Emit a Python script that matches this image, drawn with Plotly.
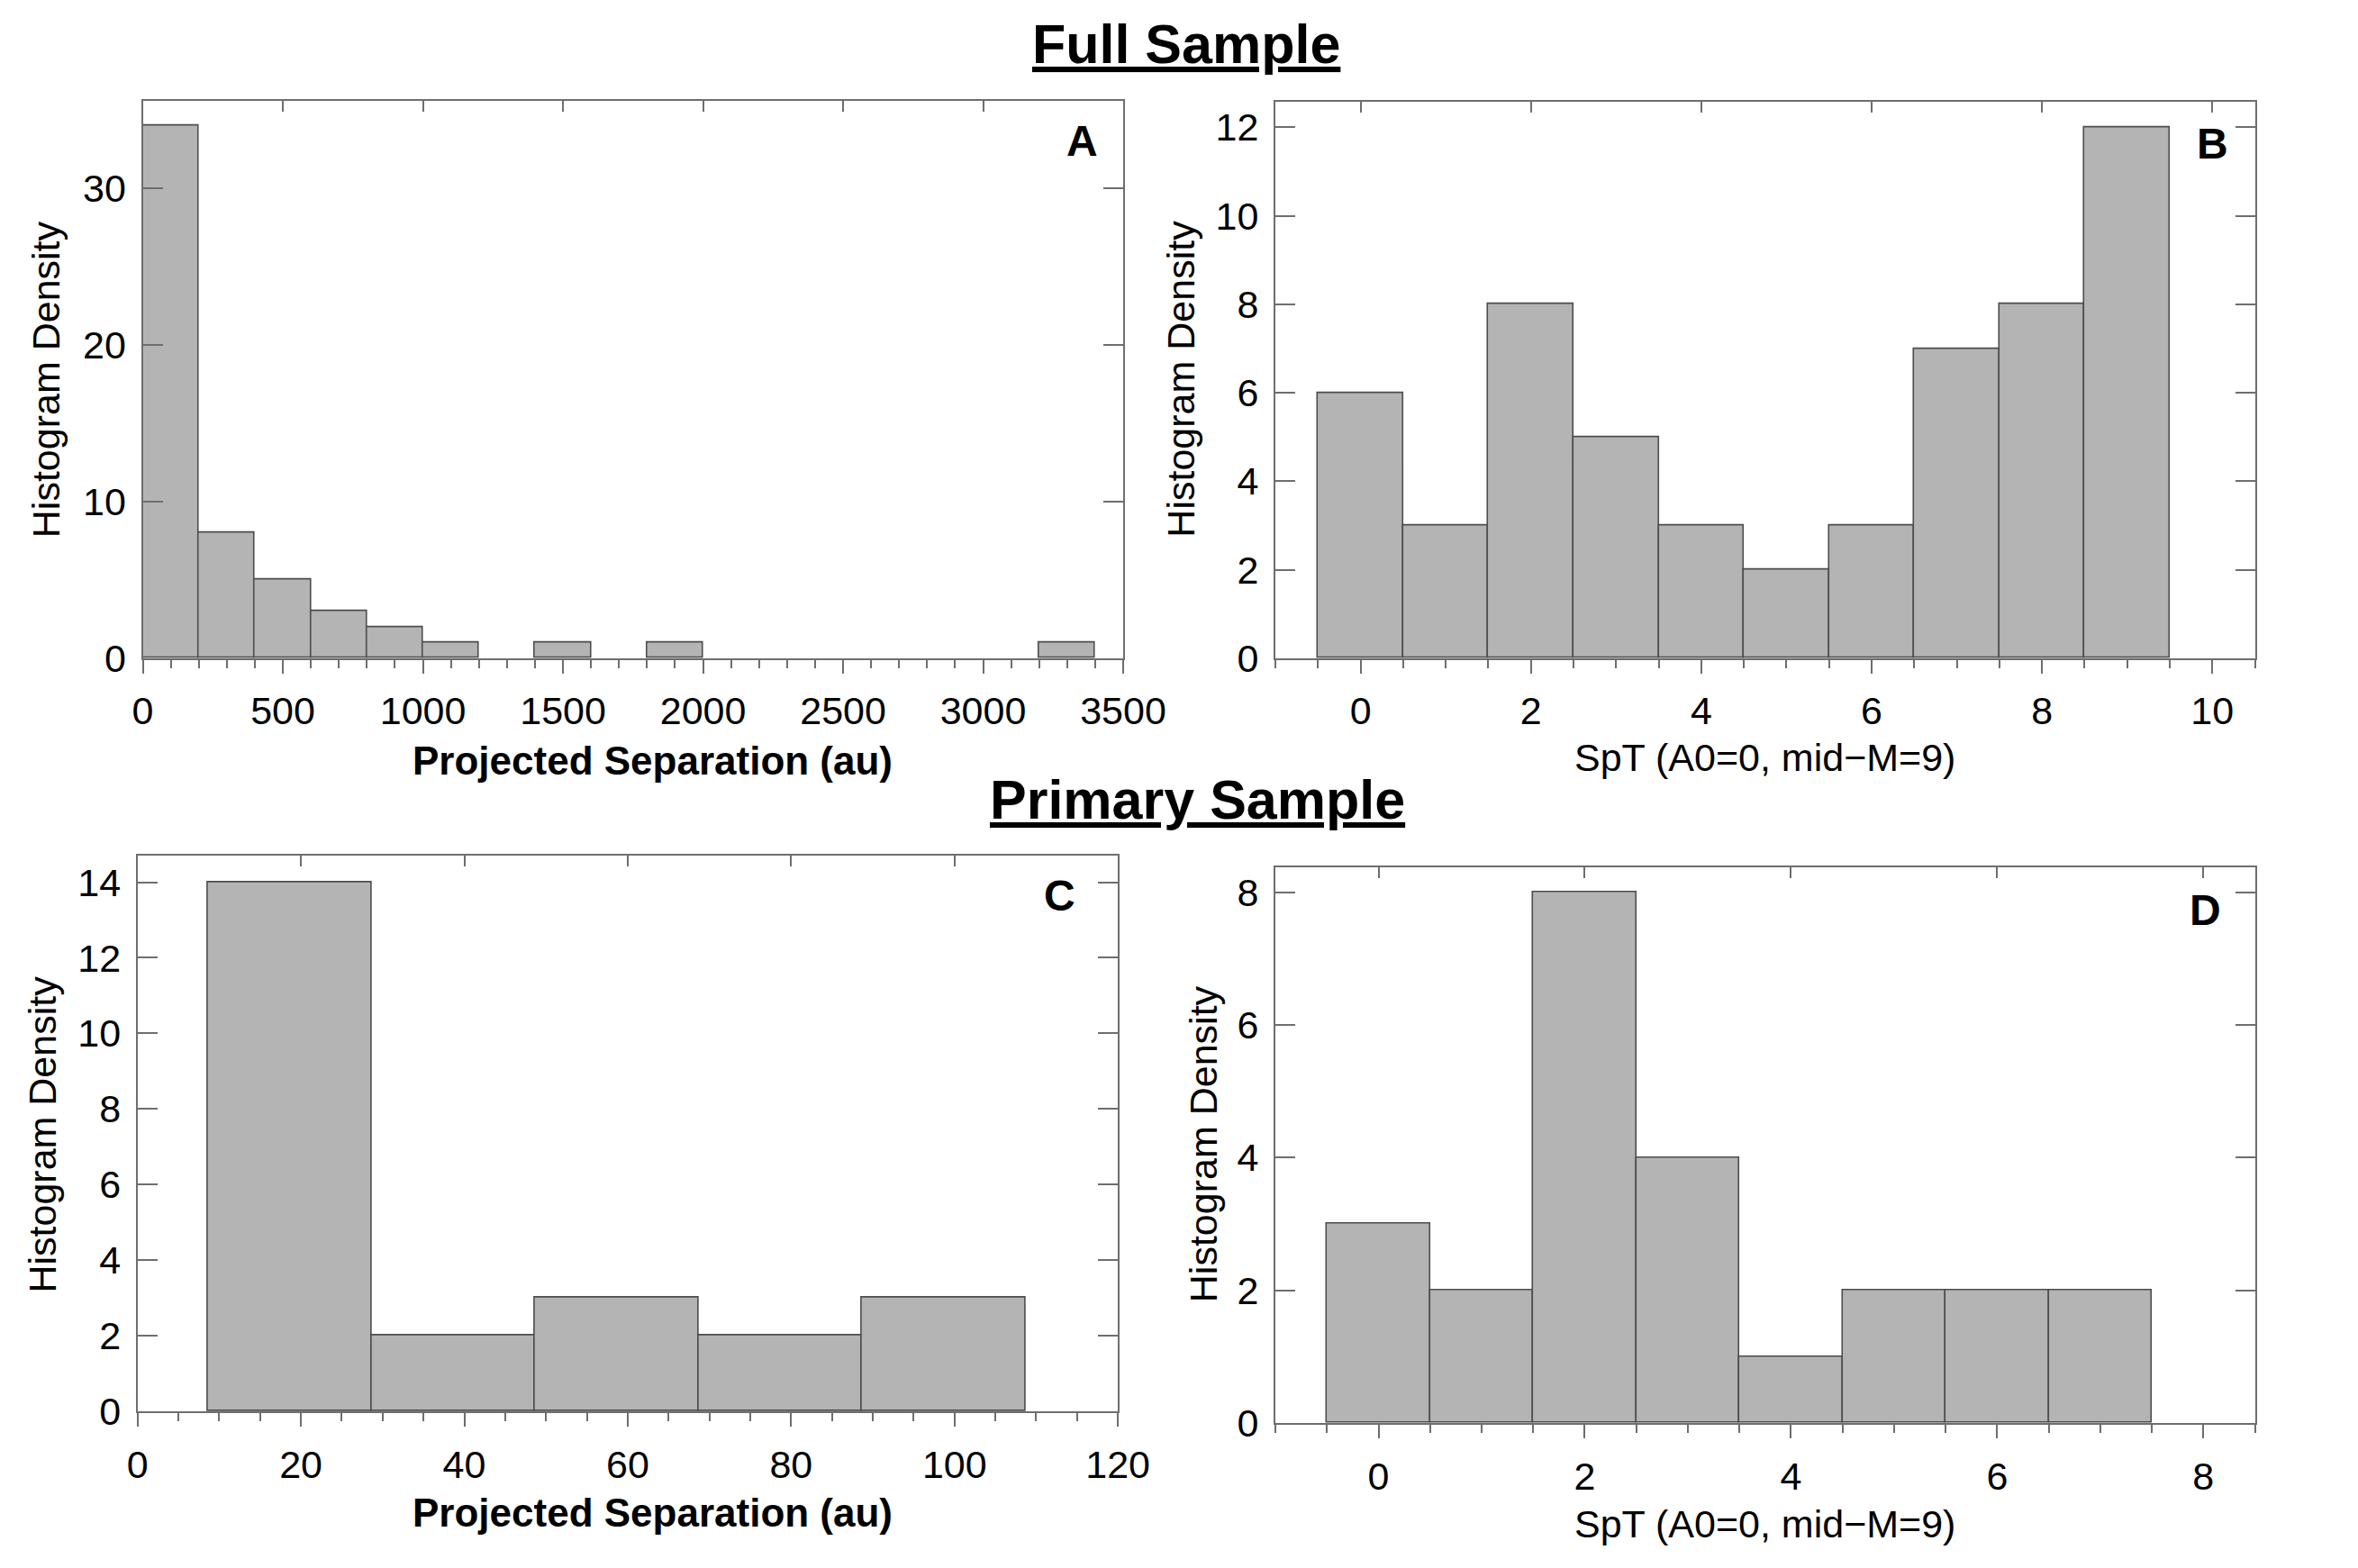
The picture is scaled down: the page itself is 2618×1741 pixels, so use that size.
import plotly.graph_objects as go

# ---------------- data ----------------
# Panel A: Full sample, projected separation (au), bin width 200
sepA_bin_left = [0, 200, 400, 600, 800, 1000, 1400, 1800, 3200]
sepA_counts = [34, 8, 5, 3, 2, 1, 1, 1, 1]
sepA_width = 200

# Panel B: Full sample, SpT (A0=0, mid-M=9)
sptB = [0, 1, 2, 3, 4, 5, 6, 7, 8, 9]
sptB_counts = [6, 3, 8, 5, 3, 2, 3, 7, 8, 12]

# Panel C: Primary sample, projected separation (au), bin width 20
sepC_bin_left = [8.65, 28.65, 48.65, 68.65, 88.65]
sepC_counts = [14, 2, 3, 2, 3]
sepC_width = 20

# Panel D: Primary sample, SpT
sptD = [0, 1, 2, 3, 4, 5, 6, 7]
sptD_counts = [3, 2, 8, 4, 1, 2, 2, 2]

W, H = 2618, 1741
FONT = "Liberation Sans, Arial, Helvetica, sans-serif"
BAR_FILL = "#b4b4b4"
BAR_LINE = "#4d4d4d"
AX = "#6e6e6e"
TICKSIZE = 43

# panel boxes in pixels (left, right, top, bottom)
boxes = {
    1: (150, 1264, 114, 741),
    2: (1437, 2550, 115, 741),
    3: (144, 1258, 963, 1589),
    4: (1437, 2550, 976, 1602),
}

def px_dom(b):
    l, r, t, bt = b
    return [l / W, r / W], [(H - bt) / H, (H - t) / H]

fig = go.Figure()

def add_bars(k, centers, counts, width):
    sfx = "" if k == 1 else str(k)
    fig.add_trace(go.Bar(
        x=centers, y=counts, width=width,
        marker=dict(color=BAR_FILL, line=dict(color=BAR_LINE, width=1.6)),
        xaxis="x" + sfx, yaxis="y" + sfx, showlegend=False, hoverinfo="x+y",
    ))
    # helper empty trace for the top (inside-tick) axis
    fig.add_trace(go.Scatter(x=[], y=[], xaxis="x" + str(k + 4), yaxis="y" + sfx,
                             showlegend=False, hoverinfo="skip"))

add_bars(1, [l + sepA_width / 2 for l in sepA_bin_left], sepA_counts, sepA_width)
add_bars(2, sptB, sptB_counts, 1)
add_bars(3, [l + sepC_width / 2 for l in sepC_bin_left], sepC_counts, sepC_width)
add_bars(4, sptD, sptD_counts, 1)

panel_cfg = {
    1: dict(xr=[0, 3500], xd=500, xm=100, yr=[0, 35.55], yd=10),
    2: dict(xr=[-1, 10.5], xd=2, xm=0.5, yr=[0, 12.57], yd=2),
    3: dict(xr=[0, 120], xd=20, xm=5, yr=[0, 14.71], yd=2),
    4: dict(xr=[-1, 8.5], xd=2, xm=0.5, yr=[0, 8.38], yd=2),
}

layout = {}
for k, c in panel_cfg.items():
    xd, yd = px_dom(boxes[k])
    sfx = "" if k == 1 else str(k)
    layout["xaxis" + sfx] = dict(
        domain=xd, anchor="y" + sfx, range=c["xr"], dtick=c["xd"], tick0=0,
        ticks="outside", ticklen=15, tickwidth=2, tickcolor=AX,
        minor=dict(dtick=c["xm"], tick0=0, ticks="outside", ticklen=9,
                   tickwidth=2, tickcolor=AX, showgrid=False),
        showline=True, linecolor=AX, linewidth=2, mirror=True,
        showgrid=False, zeroline=False,
        tickfont=dict(family=FONT, size=TICKSIZE, color="black"),
        ticklabelstandoff=5,
    )
    layout["yaxis" + sfx] = dict(
        domain=yd, anchor="x" + sfx, range=c["yr"], dtick=c["yd"], tick0=0,
        ticks="inside", ticklen=22, tickwidth=2, tickcolor=AX,
        showline=True, linecolor=AX, linewidth=2, mirror="ticks",
        showgrid=False, zeroline=False,
        tickfont=dict(family=FONT, size=TICKSIZE, color="black"),
        ticklabelstandoff=8,
    )
    layout["xaxis" + str(k + 4)] = dict(
        overlaying="x" + sfx, anchor="y" + sfx, side="top", range=c["xr"],
        dtick=c["xd"], tick0=0, ticks="inside", ticklen=12, tickwidth=2,
        tickcolor=AX, showticklabels=False, showline=False, showgrid=False,
        zeroline=False,
    )

annotations = []
def ann(text, x, y, size, bold=False, angle=0):
    t = f"<b>{text}</b>" if bold else text
    annotations.append(dict(text=t, x=x / W, y=1 - y / H, xref="paper", yref="paper",
                            xanchor="center", yanchor="middle", showarrow=False,
                            textangle=angle,
                            font=dict(family=FONT, size=size, color="black")))

ann("<u>Full Sample</u>", 1336, 50, 61, bold=True)
ann("<u>Primary Sample</u>", 1348, 900, 61, bold=True)
ann("A", 1217, 159, 48, bold=True)
ann("B", 2502, 162, 48, bold=True)
ann("C", 1192, 1008, 48, bold=True)
ann("D", 2494, 1025, 48, bold=True)
ann("Projected Separation (au)", 729, 856, 44, bold=True)
ann("SpT (A0=0, mid\u2212M=9)", 1993, 853, 43)
ann("Projected Separation (au)", 729, 1703, 44, bold=True)
ann("SpT (A0=0, mid\u2212M=9)", 1993, 1716, 43)
ann("Histogram Density", 40, 427, 43, angle=-90)
ann("Histogram Density", 1330, 427, 43, angle=-90)
ann("Histogram Density", 36, 1277, 43, angle=-90)
ann("Histogram Density", 1355, 1288, 43, angle=-90)

fig.update_layout(
    width=W, height=H, margin=dict(l=0, r=0, t=0, b=0),
    paper_bgcolor="white", plot_bgcolor="white",
    bargap=0, annotations=annotations, showlegend=False,
    font=dict(family=FONT, color="black"),
    **layout,
)

fig.write_html(
    "out.html",
    post_script="document.body.style.margin='0';document.body.style.overflow='hidden';",
)
